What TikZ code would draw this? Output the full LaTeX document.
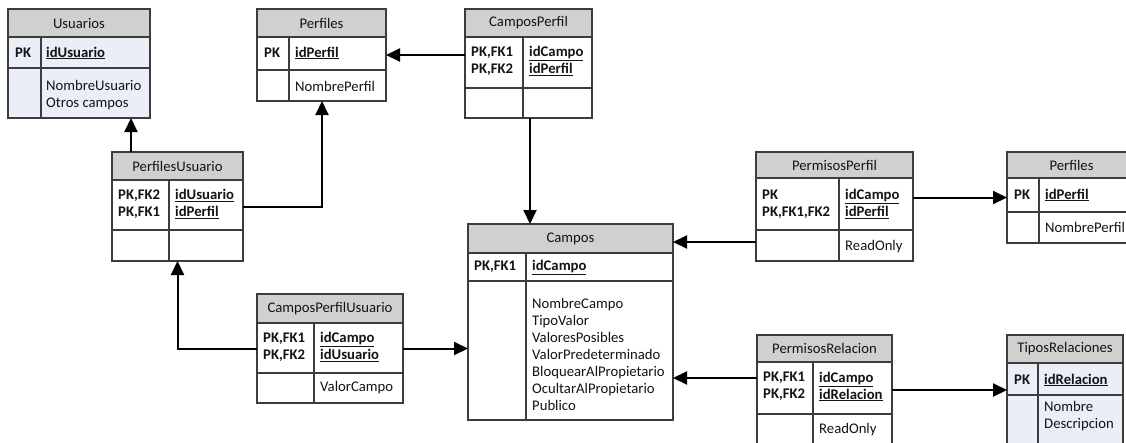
\documentclass[tikz,border=0pt]{standalone}
\usepackage{fontspec}
\setmainfont{Carlito}
\usetikzlibrary{arrows.meta,fit,calc}
\definecolor{hdrgray}{RGB}{208,208,208}
\definecolor{bodyblue}{RGB}{233,238,247}
\definecolor{gridcol}{RGB}{60,60,60}
\definecolor{txtcol}{RGB}{20,20,20}
\newcommand\ukey[1]{\textbf{\underline{#1}}}
\newcommand\ertable[9]{%
  \fill[#9] (#2,#3) rectangle (#4,#5);
  \fill[hdrgray] (#2,#3) rectangle (#4,#6);
  \draw[tblline] (#2,#6) -- (#4,#6) (#2,#7) -- (#4,#7) (#8,#6) -- (#8,#5);
  \node[tblbox, fit={(#2,#3) (#4,#5)}] (#1) {};
}
\tikzset{
  tblline/.style={draw=gridcol, line width=1.1pt},
  tblbox/.style={draw=gridcol, line width=1.1pt, inner sep=0pt, outer sep=0pt},
  conn/.style={draw=black, line width=2pt, -{Triangle[length=14pt,width=13pt]}},
  ttl/.style={inner sep=0pt, font=\fontsize{14.7}{17}\selectfont, text=txtcol},
  keyl/.style={ttl, font=\fontsize{14.7}{17}\selectfont\bfseries, anchor=west, align=left},
  fld/.style={ttl, anchor=west, align=left},
}
\begin{document}
\begin{tikzpicture}[x=1pt,y=-1pt]
\useasboundingbox (0,0) rectangle (1126,442);
\clip (0,0) rectangle (1126,442);
\fill[white] (0,0) rectangle (1126,442);

% tables
\ertable{usuarios}{8}{9}{150}{118}{37}{68}{41}{bodyblue}
\ertable{perfiles}{257}{9}{386}{101}{37}{70}{289}{white}
\ertable{camposperfil}{465}{9}{592}{118}{37}{88}{523}{white}
\ertable{perfilesusuario}{112}{152}{243}{261}{180}{230}{169}{white}
\ertable{cpu}{257}{294}{403}{403}{323}{373}{314}{white}
\ertable{campos}{468}{224}{673}{420}{253}{281}{526}{white}
\ertable{permisosperfil}{756}{152}{913}{261}{178}{230}{839}{white}
\ertable{perfilesb}{1007}{152}{1136}{243}{178}{212}{1039}{white}
\ertable{permisosrel}{757}{335}{892}{460}{362}{414}{813}{white}
\ertable{tiposrel}{1007}{335}{1123}{460}{363}{395}{1038}{bodyblue}

% Usuarios
\node[ttl] (usuarios-t) at (79,23) {Usuarios};
\node[keyl] (usuarios-k) at (15,53) {PK};
\node[fld] (usuarios-f) at (46,53) {\ukey{idUsuario}};
\node[fld] (usuarios-b) at (46,95) {NombreUsuario\\Otros campos};
% Perfiles
\node[ttl] (perfiles-t) at (321.5,23) {Perfiles};
\node[keyl] (perfiles-k) at (264,53) {PK};
\node[fld] (perfiles-f) at (295,53) {\ukey{idPerfil}};
\node[fld] (perfiles-b) at (295,86) {NombrePerfil};
% CamposPerfil
\node[ttl] (camposperfil-t) at (528.5,23) {CamposPerfil};
\node[keyl] (camposperfil-k) at (471,61) {PK,FK1\\PK,FK2};
\node[fld] (camposperfil-f) at (529,61) {\ukey{idCampo}\\\ukey{idPerfil}};
% PerfilesUsuario
\node[ttl] (perfilesusuario-t) at (177.5,166) {PerfilesUsuario};
\node[keyl] (perfilesusuario-k) at (118,204) {PK,FK2\\PK,FK1};
\node[fld] (perfilesusuario-f) at (175,204) {\ukey{idUsuario}\\\ukey{idPerfil}};
% CamposPerfilUsuario
\node[ttl] (cpu-t) at (330,308.5) {CamposPerfilUsuario};
\node[keyl] (cpu-k) at (263,347) {PK,FK1\\PK,FK2};
\node[fld] (cpu-f) at (320,347) {\ukey{idCampo}\\\ukey{idUsuario}};
\node[fld] (cpu-b) at (320,388) {ValorCampo};
% Campos
\node[ttl] (campos-t) at (570.5,238.5) {Campos};
\node[keyl] (campos-k) at (474,267) {PK,FK1};
\node[fld] (campos-f) at (532,267) {\ukey{idCampo}};
\node[fld] (campos-b) at (532,354) {NombreCampo\\TipoValor\\ValoresPosibles\\ValorPredeterminado\\BloquearAlPropietario\\OcultarAlPropietario\\Publico};
% PermisosPerfil
\node[ttl] (permisosperfil-t) at (834.5,165) {PermisosPerfil};
\node[keyl] (permisosperfil-k) at (762,204) {PK\\PK,FK1,FK2};
\node[fld] (permisosperfil-f) at (845,204) {\ukey{idCampo}\\\ukey{idPerfil}};
\node[fld] (permisosperfil-b) at (845,247) {ReadOnly};
% Perfiles (right)
\node[ttl] (perfilesb-t) at (1071.5,165) {Perfiles};
\node[keyl] (perfilesb-k) at (1014,195) {PK};
\node[fld] (perfilesb-f) at (1045,195) {\ukey{idPerfil}};
\node[fld] (perfilesb-b) at (1045,227) {NombrePerfil};
% PermisosRelacion
\node[ttl] (permisosrel-t) at (824.5,348.5) {PermisosRelacion};
\node[keyl] (permisosrel-k) at (763,386.5) {PK,FK1\\PK,FK2};
\node[fld] (permisosrel-f) at (819,386.5) {\ukey{idCampo}\\\ukey{idRelacion}};
\node[fld] (permisosrel-b) at (819,430) {ReadOnly};
% TiposRelaciones
\node[ttl] (tiposrel-t) at (1065,349) {TiposRelaciones};
\node[keyl] (tiposrel-k) at (1014,380) {PK};
\node[fld] (tiposrel-f) at (1044,380) {\ukey{idRelacion}};
\node[fld] (tiposrel-b) at (1044,416.5) {Nombre\\Descripcion};

% connectors
\draw[conn] (camposperfil.west |- perfiles.east) -- (perfiles.east);
\coordinate (pu1) at ($(perfilesusuario.north west)+(19,0)$);
\draw[conn] (pu1) -- (pu1 |- usuarios.south);
\coordinate (pf1) at ($(perfiles.south west)+(65,0)$);
\draw[conn] (perfilesusuario.east) -| (pf1);
\coordinate (cp1) at ($(camposperfil.south west)+(65,0)$);
\draw[conn] (cp1) -- (cp1 |- campos.north);
\draw[conn] (cpu.west) -| (perfilesusuario.south);
\draw[conn] (cpu.east) -- (cpu.east -| campos.west);
\coordinate (pp1) at ($(permisosperfil.north west)+(0,90)$);
\draw[conn] (pp1) -- (pp1 -| campos.east);
\draw[conn] (permisosperfil.east |- perfilesb.west) -- (perfilesb.west);
\coordinate (pr1) at ($(permisosrel.north west)+(0,43)$);
\draw[conn] (pr1) -- (pr1 -| campos.east);
\coordinate (tr1) at ($(tiposrel.north west)+(0,55)$);
\draw[conn] (tr1 -| permisosrel.east) -- (tr1);
\end{tikzpicture}
\end{document}
